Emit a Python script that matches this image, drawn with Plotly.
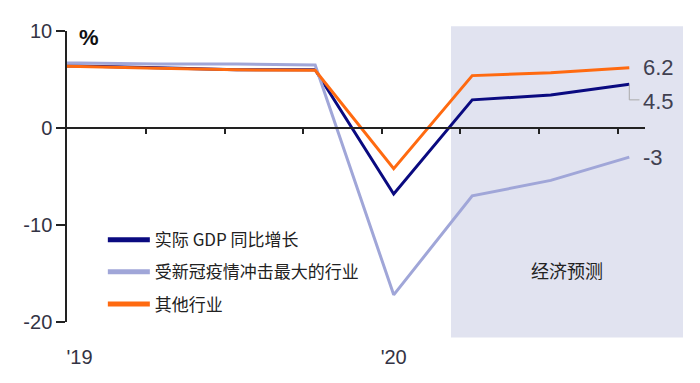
import plotly.graph_objects as go

# Quarterly positions: index 0 = 2019 Q1 ... 7 = 2020 Q4 (line enters from the left edge)
quarters = ["2018Q4", "2019Q1", "2019Q2", "2019Q3", "2019Q4", "2020Q1", "2020Q2", "2020Q3", "2020Q4"]
x_idx = [-1, 0, 1, 2, 3, 4, 5, 6, 7]

gdp = [6.4, 6.4, 6.2, 6.0, 6.0, -6.8, 2.9, 3.4, 4.5]
hit = [6.7, 6.7, 6.6, 6.6, 6.5, -17.2, -7.0, -5.4, -3.0]
other = [6.4, 6.35, 6.15, 6.0, 5.95, -4.2, 5.4, 5.7, 6.2]

names = ["实际 GDP 同比增长", "受新冠疫情冲击最大的行业", "其他行业"]
colors = ["#0a0a80", "#a0a6d8", "#ff6a10"]

year_ticks = [0, 4]
year_labels = ["'19", "'20"]
quarter_ticks = [q - 0.15 for q in range(1, 8)]

y_ticks = [10, 0, -10, -20]
y_labels = ["10", "0", "-10", "-20"]

fig = go.Figure()
for i, (nm, ys, c) in enumerate(zip(names, [gdp, hit, other], colors)):
    fig.add_trace(go.Scatter(
        x=x_idx, y=ys, mode="lines", name=nm,
        line=dict(color=c, width=3),
        showlegend=False, hoverinfo="skip",
    ))
# legend entries (thicker sample lines)
for i, (nm, c) in enumerate(zip(names, colors)):
    fig.add_trace(go.Scatter(
        x=[None], y=[None], mode="lines", name=nm,
        line=dict(color=c, width=5),
        legendgroup=str(i), showlegend=True, hoverinfo="skip",
    ))
# invisible trace for the bottom year-label axis
fig.add_trace(go.Scatter(x=x_idx, y=gdp, xaxis="x2", mode="lines",
                         line=dict(width=0), opacity=0, showlegend=False, hoverinfo="skip"))

x_range = [-0.16, 7.2]

# page body has an 8px offset -> figure is 8px smaller, left/top margins reduced by 8
fig.update_layout(
    width=692, height=375,
    margin=dict(l=59, r=55, t=14, b=61),
    paper_bgcolor="white",
    plot_bgcolor="rgba(0,0,0,0)",
    font=dict(family="Liberation Sans, Arial, sans-serif", color="#333344"),
    showlegend=True,
    legend=dict(
        x=0.062, y=0.343, xanchor="left", yanchor="top",
        bgcolor="rgba(0,0,0,0)",
        font=dict(family="Noto Sans CJK SC", size=17, color="#222222"),
        traceorder="grouped", tracegroupgap=7, itemwidth=42,
    ),
    xaxis=dict(
        range=x_range, anchor="free", position=20 / 30,
        showline=True, linecolor="#222222", linewidth=1.5,
        ticks="outside", ticklen=5, tickwidth=1.5, tickcolor="#222222",
        tickvals=quarter_ticks, showticklabels=False,
        showgrid=False, zeroline=False, fixedrange=True,
    ),
    xaxis2=dict(
        range=x_range, overlaying="x", anchor="y", side="bottom",
        showline=False, showgrid=False, zeroline=False,
        tickvals=year_ticks, ticktext=year_labels,
        ticks="outside", ticklen=17, tickcolor="rgba(0,0,0,0)",
        tickfont=dict(size=20, color="#333344"),
    ),
    yaxis=dict(
        range=[-20, 10], tickvals=y_ticks, ticktext=y_labels,
        showline=True, linecolor="#222222", linewidth=1.5,
        ticks="outside", ticklen=9, tickwidth=1.5, tickcolor="#222222",
        tickfont=dict(size=20, color="#333344"),
        showgrid=False, zeroline=False,
    ),
    shapes=[
        dict(type="rect", xref="paper", yref="paper",
             x0=(451 - 67) / 578, x1=(683 - 67) / 578,
             y0=-16 / 300, y1=305 / 300,
             fillcolor="#e1e3f0", line=dict(width=0), layer="below"),
        dict(type="path", xref="x", yref="y",
             path=f"M {x_idx[-1]},{gdp[-1]} L {x_idx[-1]},{gdp[-1]-1.6} L {x_idx[-1]+0.13},{gdp[-1]-1.6}",
             line=dict(color="#aaaaaa", width=1)),
    ],
    annotations=[
        dict(text="<b>%</b>", xref="paper", yref="paper", x=(77 - 67) / 578, y=(322 - 29) / 300,
             xanchor="left", yanchor="middle", showarrow=False,
             font=dict(size=22, color="#111111", family="Liberation Sans, Arial")),
        dict(text=f"{other[-1]:.1f}", x=x_idx[-1], y=other[-1], xanchor="left", yanchor="middle",
             xshift=12, showarrow=False, font=dict(size=22, color="#404050")),
        dict(text=f"{gdp[-1]:.1f}", x=x_idx[-1], y=gdp[-1], xanchor="left", yanchor="middle",
             xshift=12, yshift=-17, showarrow=False, font=dict(size=22, color="#404050")),
        dict(text=f"{hit[-1]:g}", x=x_idx[-1], y=hit[-1], xanchor="left", yanchor="middle",
             xshift=12, showarrow=False, font=dict(size=22, color="#404050")),
        dict(text="经济预测", xref="paper", yref="paper", x=(567 - 67) / 578, y=(322 - 268) / 300,
             xanchor="center", yanchor="middle", showarrow=False,
             font=dict(size=18, color="#222222", family="Noto Sans CJK SC")),
    ],
)

fig.write_html("out.html")
